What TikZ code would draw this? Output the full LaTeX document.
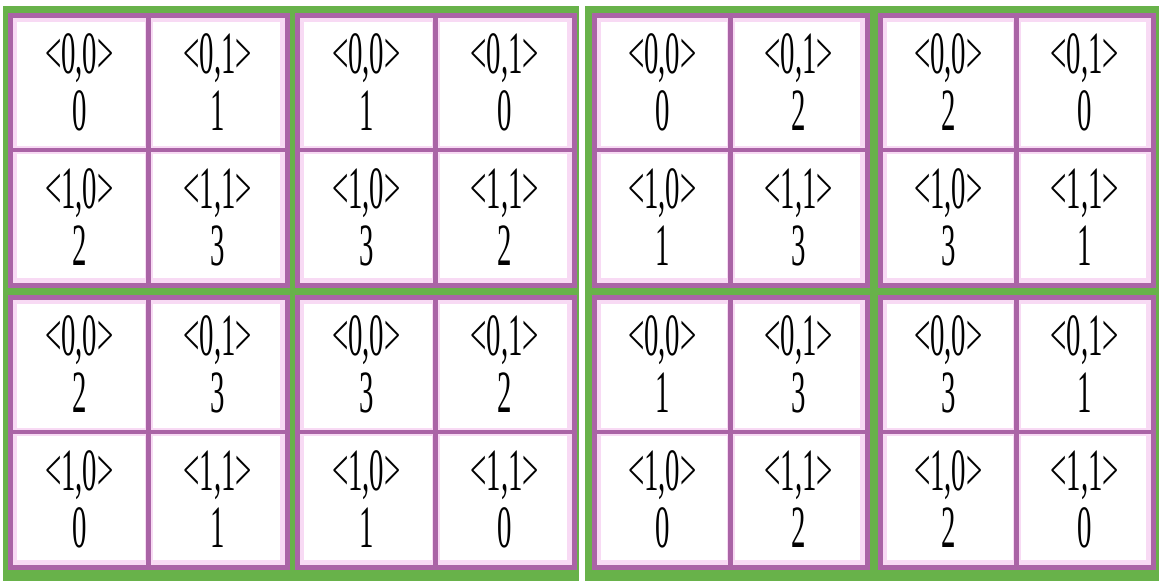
\documentclass[tikz,border=0pt]{standalone}
\usepackage{fontspec}
\newfontfamily\cellfont[FakeStretch=0.48]{Liberation Serif}
\definecolor{panelgreen}{RGB}{104,178,74}
\definecolor{blockmauve}{RGB}{170,100,166}
\definecolor{cellhalo}{RGB}{248,218,244}
\tikzset{
  panel/.style={fill=panelgreen, draw=none},
  block/.style={fill=none, draw=blockmauve, line width=5pt},
  halo/.style={draw=cellhalo, line width=8pt},
  divider/.style={draw=blockmauve, line width=4.5pt},
  idx/.style={font=\cellfont\fontsize{60}{60}\selectfont, inner sep=0pt, anchor=base},
  val/.style={idx}
}
\begin{document}
\begin{tikzpicture}[x=1pt, y=-1pt]
    \useasboundingbox (0,0) rectangle (1159,581);

    % Two green panels
    \fill[panel] (3,6) rectangle (579,581);
    \fill[panel] (585,6) rectangle (1159,581);

    % Blocks: x / y / width / values of the four cells / name
    \foreach \bx/\by/\bw/\va/\vb/\vc/\vd/\n in {
        10/15/277/0/1/2/3/a, 297/15/277/1/0/3/2/b,
        10/297/277/2/3/0/1/c, 297/297/277/3/2/1/0/d,
        594/15/273/0/2/1/3/e, 880/15/273/2/0/3/1/f,
        594/297/273/1/3/0/2/g, 880/297/273/3/1/2/0/h} {
        \fill[white] (\bx,\by) rectangle ++(\bw,270);
        \draw[halo] (\bx+\bw/2,\by) -- ++(0,270);
        \draw[halo] (\bx,\by+135) -- ++(\bw,0);
        \draw[halo] (\bx+3,\by+3) rectangle ++(\bw-6,264);
        \draw[divider] (\bx+\bw/2,\by) -- ++(0,270);
        \draw[divider] (\bx,\by+135) -- ++(\bw,0);
        \draw[block] (\bx,\by) rectangle ++(\bw,270);
        % cell labels and values
        \node[idx] (\n-l00) at (\bx+\bw/4,\by+58) {<0,0>};
        \node[val] (\n-v00) at (\bx+\bw/4,\by+115) {\va};
        \node[idx] (\n-l01) at (\bx+3*\bw/4,\by+58) {<0,1>};
        \node[val] (\n-v01) at (\bx+3*\bw/4,\by+115) {\vb};
        \node[idx] (\n-l10) at (\bx+\bw/4,\by+193) {<1,0>};
        \node[val] (\n-v10) at (\bx+\bw/4,\by+250) {\vc};
        \node[idx] (\n-l11) at (\bx+3*\bw/4,\by+193) {<1,1>};
        \node[val] (\n-v11) at (\bx+3*\bw/4,\by+250) {\vd};
    }
\end{tikzpicture}
\end{document}
